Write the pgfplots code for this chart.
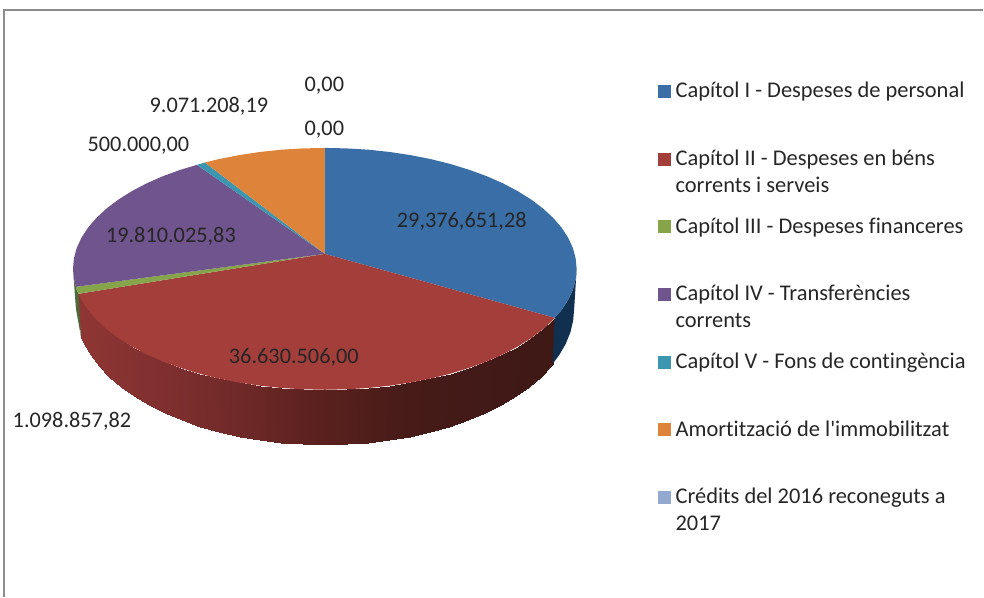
\documentclass[border=0pt]{standalone}
\usepackage{fontspec}
\defaultfontfeatures[\rmfamily]{Ligatures=NoCommon}
\setmainfont{Carlito}
\usepackage{pgfplots}
\pgfplotsset{compat=1.18}
\usepackage{pgfplotstable}

\definecolor{cblue}{RGB}{58,110,166}
\definecolor{cred}{RGB}{163,62,59}
\definecolor{cgreen}{RGB}{134,165,74}
\definecolor{cpurple}{RGB}{112,84,142}
\definecolor{cteal}{RGB}{60,150,176}
\definecolor{corange}{RGB}{222,132,58}
\definecolor{clight}{RGB}{147,169,207}
\definecolor{ctext}{RGB}{38,38,38}

% front wall of the red slice: rim points, then the bottom edge
\pgfplotstableread{
x y c
555.0 318.0 0.00
553.4 320.1 0.00
543.2 329.5 0.03
531.4 338.4 0.05
518.0 346.8 0.08
503.2 354.6 0.11
487.0 361.7 0.14
469.5 368.1 0.18
451.0 373.8 0.22
431.5 378.7 0.26
411.2 382.7 0.30
390.2 385.9 0.35
368.8 388.2 0.39
347.0 389.5 0.44
325.0 390.0 0.49
303.0 389.5 0.53
281.2 388.2 0.58
259.8 385.9 0.62
238.8 382.7 0.67
218.5 378.7 0.71
199.0 373.8 0.75
180.5 368.1 0.79
163.0 361.7 0.83
146.8 354.6 0.86
132.0 346.8 0.89
118.6 338.4 0.92
106.8 329.5 0.95
96.6 320.1 0.97
88.2 310.4 0.98
81.6 300.3 0.99
78.5 294.0 1.00
553.0 364.0 0.00
551.1 366.4 0.00
541.0 377.0 0.03
529.3 387.0 0.05
516.1 396.4 0.08
501.4 405.2 0.11
485.4 413.2 0.14
468.1 420.4 0.18
449.7 426.8 0.22
430.4 432.3 0.26
410.3 436.8 0.30
389.5 440.4 0.35
368.4 443.0 0.39
346.8 444.4 0.44
325.0 445.0 0.49
303.2 444.4 0.53
281.6 443.0 0.58
260.5 440.4 0.62
239.7 436.8 0.67
219.6 432.3 0.71
200.3 426.8 0.75
181.9 420.4 0.79
164.6 413.2 0.83
148.6 405.2 0.86
133.9 396.4 0.89
120.7 387.0 0.92
109.0 377.0 0.95
98.9 366.4 0.97
90.6 355.5 0.98
84.0 344.2 0.99
81.0 337.1 1.00
}\redwall

\newcommand{\LE}[1]{\hspace*{5pt}\rule[-47.7pt]{0pt}{67.7pt}\parbox[t]{295pt}{\raggedright #1}}

\begin{document}
\begin{tikzpicture}
\begin{axis}[
  width=984pt, height=597pt, scale only axis,
  xmin=0, xmax=984, ymin=0, ymax=597, y dir=reverse,
  hide axis, clip=false,
  colormap={wall}{rgb255(0)=(62,25,22) rgb255(0.3)=(70,27,24) rgb255(0.5)=(90,33,30) rgb255(0.7)=(115,43,42) rgb255(1)=(142,54,52)},
  point meta min=0, point meta max=1,
  area legend,
  legend image code/.code={\path[#1] (0pt,13.85pt) rectangle (13pt,26.85pt);},
  legend style={at={(axis cs:658,78)}, anchor=north west, draw=none, fill=none,
    inner sep=0pt, outer sep=0pt, row sep=0pt, font=\fontsize{22.45}{27}\selectfont, text=ctext,
    nodes={text depth=, inner sep=0pt}},
  legend cell align=left,
]
% page extent, the axis itself is hidden
\path (axis cs:0,0) rectangle (axis cs:984,597);
% chart frame
\addplot[forget plot, color=black!45, line width=1.2pt] coordinates {(4,597) (4,10) (984,10)};

% walls
\addplot[forget plot, surf, shader=interp, mesh/cols=31, point meta=explicit]
  table[x=x, y=y, meta=c] {\redwall};
\addplot[forget plot, fill={rgb,255:red,17;green,48;blue,80}, draw=none] coordinates {
  (555,318) (561.8,310.4) (568.4,300.3) (573.2,290) (576,279.5) (577,269)
  (574.5,309) (573.5,320.8) (570.7,332.6) (566,344.2) (559.4,355.5) (553,364)} -- cycle;
\addplot[forget plot, fill={rgb,255:red,78;green,106;blue,58}, draw=none] coordinates {
  (78.5,294) (76.8,290) (76,287) (74,279.5) (73,269) (76,309) (81,337.1)} -- cycle;

% top faces
\addplot[fill=cblue, draw=none] coordinates {
  (325,254) (325,148) (347,148.5) (368.8,149.8) (390.2,152.1) (411.2,155.3) (431.5,159.3)
  (451,164.2) (469.5,169.9) (487,176.3) (503.2,183.4) (518,191.2) (531.4,199.6) (543.2,208.5)
  (553.4,217.9) (561.8,227.6) (568.4,237.7) (573.2,248) (576,258.5) (577,269) (576,279.5)
  (573.2,290) (568.4,300.3) (561.8,310.4) (555,318)} -- cycle;
\addlegendentry{\LE{Capítol I - Despeses de personal}}
\addplot[fill=cred, draw=none] coordinates {
  (325,254) (555,318) (553.4,320.1) (543.2,329.5) (531.4,338.4) (518,346.8) (503.2,354.6)
  (487,361.7) (469.5,368.1) (451,373.8) (431.5,378.7) (411.2,382.7) (390.2,385.9) (368.8,388.2)
  (347,389.5) (325,390) (303,389.5) (281.2,388.2) (259.8,385.9) (238.8,382.7) (218.5,378.7)
  (199,373.8) (180.5,368.1) (163,361.7) (146.8,354.6) (132,346.8) (118.6,338.4) (106.8,329.5)
  (96.6,320.1) (88.2,310.4) (81.6,300.3) (78.5,294)} -- cycle;
\addlegendentry{\LE{Capítol II - Despeses en béns\\corrents i serveis}}
\addplot[fill=cgreen, draw=none] coordinates {
  (325,254) (78.5,294) (76.8,290) (76,287)} -- cycle;
\addlegendentry{\LE{Capítol III - Despeses financeres}}
\addplot[fill=cpurple, draw=none] coordinates {
  (325,254) (76,287) (74,279.5) (73,269) (74,258.5) (76.8,248) (81.6,237.7) (88.2,227.6)
  (96.6,217.9) (106.8,208.5) (118.6,199.6) (132,191.2) (146.8,183.4) (163,176.3) (180.5,169.9)
  (197,165)} -- cycle;
\addlegendentry{\LE{Capítol IV - Transferències\\corrents}}
\addplot[fill=cteal, draw=none] coordinates {(325,254) (197,165) (205,162.6)} -- cycle;
\addlegendentry{\LE{Capítol V - Fons de contingència}}
\addplot[fill=corange, draw=none] coordinates {
  (325,254) (205,162.6) (218.5,159.3) (238.8,155.3) (259.8,152.1) (281.2,149.8) (303,148.5)
  (325,148)} -- cycle;
\addlegendentry{\LE{Amortització de l'immobilitzat}}
% zero value, nothing to see but the legend key
\addplot[fill=clight, draw=none] coordinates {(325,254) (325,148)} -- cycle;
\addlegendentry{\LE{Crédits del 2016 reconeguts a\\2017}}

% data labels
\tikzset{lab/.style={anchor=base, text=ctext, inner sep=0pt, font=\fontsize{22.3}{26}\selectfont}}
\node[lab] at (axis cs:324.5,91.5) {0,00};
\node[lab] at (axis cs:209,113) {9.071.208,19};
\node[lab] at (axis cs:324.5,136) {0,00};
\node[lab] at (axis cs:138.5,151.5) {500.000,00};
\node[lab] at (axis cs:462,228) {29,376,651,28};
\node[lab] at (axis cs:171,243) {19.810.025,83};
\node[lab] at (axis cs:294,364) {36.630.506,00};
\node[lab] at (axis cs:72,428) {1.098.857,82};
\end{axis}
\end{tikzpicture}
\end{document}
